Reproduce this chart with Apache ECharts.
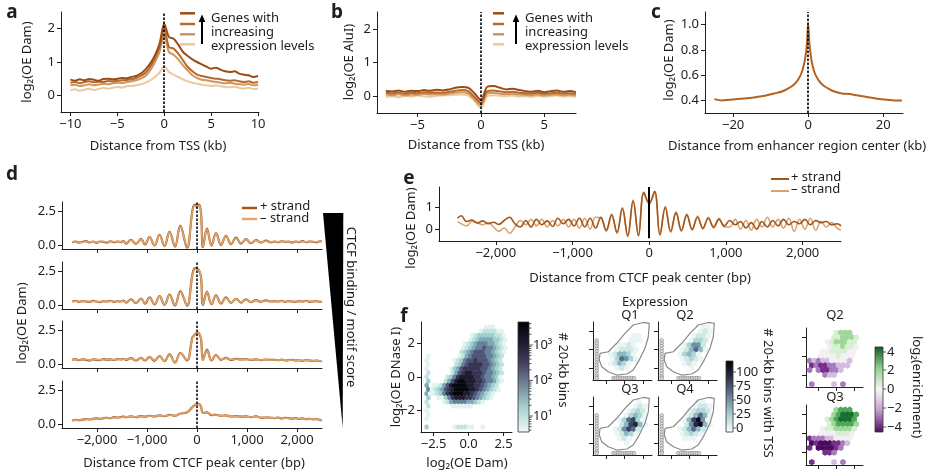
<!DOCTYPE html>
<html><head><meta charset="utf-8">
<script src="https://cdn.jsdelivr.net/npm/echarts@6/dist/echarts.min.js"></script>
<style>html,body{margin:0;padding:0;background:#fff}#c{width:937px;height:474px}</style>
</head><body><div id="c"></div>
<script>
const FONT='"Noto Sans","DejaVu Sans",sans-serif';
const INK='#1e1e1e';
function seq(s,st,n){const a=[];for(let i=0;i<n;i++)a.push(Math.round((s+st*i)*1000)/1000);return a;}
function zip(xs,ys){return xs.map((x,i)=>[x,ys[i]]);}

// ---------- panel a ----------
const aX=seq(-10,0.5,41);
const aTicks=[-10,-5,0,5,10];
const aQ4=[0.47,0.44,0.48,0.45,0.49,0.47,0.44,0.49,0.5,0.48,0.5,0.52,0.51,0.55,0.58,0.65,0.78,0.95,1.2,1.55,2.15,1.75,1.7,1.52,1.3,1.18,1.08,1.0,0.93,0.86,0.8,0.83,0.77,0.72,0.7,0.72,0.65,0.62,0.6,0.55,0.58];
const aQ3=[0.38,0.4,0.36,0.4,0.42,0.39,0.41,0.4,0.43,0.42,0.44,0.45,0.46,0.48,0.52,0.58,0.68,0.85,1.1,1.45,2.0,1.45,1.4,1.25,1.05,0.85,0.72,0.62,0.58,0.55,0.52,0.5,0.48,0.45,0.44,0.45,0.42,0.4,0.42,0.38,0.4];
const aQ2=[0.3,0.32,0.28,0.3,0.33,0.3,0.32,0.35,0.33,0.36,0.38,0.37,0.4,0.42,0.45,0.5,0.58,0.75,0.98,1.3,1.8,1.3,1.22,1.08,0.9,0.75,0.6,0.52,0.47,0.45,0.42,0.4,0.38,0.36,0.38,0.35,0.33,0.32,0.34,0.3,0.32];
const aQ1=[0.15,0.18,0.14,0.17,0.2,0.16,0.19,0.22,0.2,0.23,0.25,0.23,0.27,0.28,0.3,0.33,0.38,0.45,0.55,0.68,0.88,0.7,0.62,0.55,0.48,0.42,0.38,0.35,0.32,0.3,0.28,0.3,0.27,0.25,0.24,0.26,0.22,0.2,0.23,0.19,0.2];

// ---------- panel b ----------
const bX=seq(-7.5,0.5,31);
const bTicks=[-5,0,5];
const bQ4=[0.15,0.14,0.17,0.13,0.16,0.15,0.18,0.16,0.19,0.17,0.2,0.25,0.27,0.25,0.08,-0.12,0.28,0.3,0.25,0.2,0.22,0.18,0.15,0.13,0.16,0.12,0.15,0.17,0.13,0.15,0.12];
const bQ3=[0.1,0.08,0.11,0.07,0.1,0.09,0.12,0.1,0.11,0.1,0.13,0.16,0.18,0.15,-0.03,-0.2,0.15,0.17,0.14,0.12,0.13,0.1,0.09,0.08,0.1,0.07,0.09,0.1,0.08,0.09,0.07];
const bQ2=[0.05,0.03,0.06,0.02,0.05,0.04,0.07,0.05,0.06,0.05,0.08,0.1,0.12,0.08,-0.1,-0.27,0.08,0.1,0.07,0.06,0.07,0.05,0.04,0.03,0.05,0.02,0.04,0.05,0.03,0.04,0.02];
const bQ1=[-0.02,0.0,-0.03,0.01,-0.01,0.02,0.0,-0.02,0.01,0.02,0.03,0.04,0.05,0.02,-0.15,-0.35,0.0,0.03,0.01,0.0,0.02,-0.01,0.0,-0.02,0.01,-0.01,0.0,0.02,-0.01,0.0,-0.02];

// ---------- panel c ----------
const cX=[-25,-23,-21,-19,-17,-15,-13,-11,-9,-7,-5,-4,-3,-2,-1.5,-1,-0.6,-0.3,0,0.3,0.6,1,1.5,2,3,4,5,7,9,11,13,15,17,19,21,23,25];
const cY=[0.41,0.4,0.405,0.41,0.415,0.42,0.43,0.44,0.455,0.47,0.5,0.52,0.55,0.6,0.64,0.7,0.77,0.86,1.01,0.87,0.78,0.7,0.64,0.6,0.55,0.52,0.5,0.47,0.455,0.45,0.44,0.43,0.42,0.41,0.405,0.4,0.4];
const cTicks=[-20,0,20];

// ---------- panel d ----------
const dX=[-2500,-2430,-2360,-2290,-2220,-2150,-2080,-2010,-1940,-1870,-1800,-1730,-1660,-1590,-1520,-1470,
 -1420,-1320,-1220,-1120,-1040,-950,-850,-750,-650,-550,-440,-335,-200,
 -90,-40,0,40,80,
 120,200,290,380,480,580,680,780,880,980,1080,1180,1280,1380,1480,
 1550,1620,1690,1760,1830,1900,1970,2040,2110,2180,2250,2320,2390,2460,2500];
const dTicks=[-2000,-1000,0,1000,2000];
const d1p=[0.25,0.3,0.22,0.28,0.33,0.24,0.3,0.2,0.3,0.27,0.22,0.32,0.25,0.3,0.26,0.33,
 0.15,0.42,0.12,0.5,0.08,0.62,0.02,0.78,-0.02,1.0,-0.08,1.45,-0.15,
 2.6,3.0,2.85,3.0,2.4,
 -0.12,1.25,0.0,0.92,0.05,0.72,0.1,0.58,0.15,0.48,0.18,0.4,0.22,0.36,0.24,
 0.3,0.25,0.32,0.27,0.3,0.22,0.3,0.26,0.33,0.25,0.3,0.28,0.24,0.32,0.3];
const d1m=[0.27,0.28,0.25,0.25,0.3,0.27,0.28,0.23,0.28,0.3,0.25,0.3,0.28,0.27,0.29,0.3,
 0.18,0.4,0.14,0.48,0.1,0.6,0.04,0.75,0.0,0.98,-0.05,1.4,-0.1,
 2.55,2.95,2.9,2.95,2.35,
 -0.1,1.2,0.02,0.9,0.08,0.7,0.12,0.55,0.17,0.46,0.2,0.38,0.23,0.34,0.25,
 0.28,0.27,0.3,0.29,0.28,0.25,0.28,0.28,0.3,0.27,0.28,0.3,0.26,0.3,0.32];
const d2p=[0.3,0.35,0.28,0.33,0.3,0.27,0.34,0.3,0.26,0.32,0.3,0.35,0.28,0.32,0.3,0.36,
 0.22,0.45,0.18,0.52,0.15,0.6,0.1,0.7,0.05,0.8,0.0,1.05,0.0,
 2.3,2.75,2.7,2.6,2.1,
 0.05,1.0,0.1,0.75,0.15,0.6,0.2,0.5,0.22,0.45,0.25,0.4,0.28,0.38,0.3,
 0.33,0.3,0.35,0.28,0.32,0.3,0.27,0.33,0.3,0.35,0.28,0.3,0.32,0.27,0.3];
const d2m=[0.32,0.33,0.3,0.31,0.33,0.29,0.32,0.31,0.28,0.3,0.32,0.33,0.3,0.3,0.32,0.34,
 0.24,0.43,0.2,0.5,0.17,0.58,0.12,0.68,0.07,0.78,0.03,1.0,0.03,
 2.25,2.7,2.72,2.62,2.15,
 0.08,0.98,0.12,0.72,0.17,0.58,0.22,0.48,0.24,0.43,0.27,0.39,0.29,0.36,0.31,
 0.31,0.32,0.33,0.3,0.3,0.32,0.29,0.31,0.32,0.33,0.3,0.29,0.3,0.29,0.28];
const d3p=[0.35,0.4,0.32,0.38,0.35,0.3,0.38,0.35,0.33,0.4,0.36,0.38,0.34,0.4,0.38,0.42,
 0.35,0.48,0.3,0.5,0.3,0.55,0.28,0.62,0.25,0.75,0.15,0.85,0.3,
 2.0,2.2,2.35,2.3,1.9,
 0.35,1.1,0.3,0.7,0.35,0.5,0.35,0.42,0.38,0.4,0.35,0.38,0.33,0.36,0.34,
 0.35,0.32,0.36,0.3,0.33,0.35,0.3,0.32,0.28,0.33,0.3,0.27,0.3,0.26,0.28];
const d3m=[0.37,0.38,0.34,0.36,0.37,0.33,0.36,0.37,0.35,0.38,0.37,0.37,0.36,0.38,0.39,0.4,
 0.37,0.46,0.32,0.48,0.32,0.53,0.3,0.6,0.27,0.72,0.18,0.82,0.32,
 1.95,2.18,2.33,2.32,1.95,
 0.38,1.05,0.32,0.68,0.37,0.48,0.37,0.41,0.37,0.39,0.36,0.37,0.34,0.35,0.33,
 0.34,0.33,0.35,0.32,0.32,0.34,0.31,0.31,0.3,0.32,0.31,0.28,0.29,0.27,0.27];
const d4p=[0.3,0.35,0.32,0.36,0.4,0.38,0.42,0.45,0.42,0.48,0.5,0.47,0.55,0.52,0.55,0.58,
 0.55,0.6,0.55,0.62,0.58,0.65,0.6,0.68,0.62,0.72,0.65,0.8,0.9,
 1.3,1.45,1.5,1.5,1.3,
 0.85,0.9,0.7,0.72,0.65,0.68,0.6,0.62,0.58,0.6,0.55,0.6,0.5,0.52,0.5,
 0.48,0.52,0.45,0.5,0.47,0.44,0.48,0.42,0.45,0.4,0.43,0.38,0.4,0.35,0.33];
const d4m=[0.32,0.33,0.34,0.35,0.38,0.4,0.41,0.43,0.44,0.47,0.48,0.5,0.52,0.53,0.54,0.56,
 0.57,0.59,0.57,0.6,0.6,0.63,0.62,0.66,0.64,0.7,0.67,0.78,0.92,
 1.32,1.48,1.52,1.48,1.28,
 0.83,0.88,0.72,0.7,0.66,0.66,0.62,0.6,0.59,0.58,0.56,0.58,0.52,0.5,0.49,
 0.49,0.5,0.47,0.48,0.46,0.45,0.46,0.43,0.44,0.41,0.42,0.39,0.39,0.36,0.34];

// ---------- panel e ----------
const eX=[-2500].concat(seq(-2450,70,71),[2500]);
const eTicks=[-2000,-1000,0,1000,2000];
const ePlus=[0.5,0.62,0.35,0.42,0.28,0.38,0.25,0.32,0.22,0.4,0.55,0.25,0.1,0.4,0.1,0.45,0.2,0.38,0.12,0.5,0.25,0.45,0.15,0.5,0.1,0.5,0.05,0.55,-0.05,0.65,-0.15,0.95,-0.3,1.3,-0.3,1.7,1.2,1.75,-0.25,1.0,-0.1,0.75,-0.05,0.65,0.0,0.55,0.05,0.5,0.1,0.45,0.15,0.4,0.2,0.35,0.05,0.3,0.0,0.35,0.1,0.4,0.15,0.45,0.2,0.35,0.25,0.45,0.2,0.4,0.3,0.35,0.2,0.25,0.15];
const eMinus=[0.35,0.25,0.15,0.35,0.3,0.2,0.3,0.1,-0.1,0.05,-0.2,0.1,0.4,0.2,0.45,0.15,0.45,0.1,0.4,0.15,0.45,0.1,0.45,0.05,0.5,0.0,0.55,0.5,-0.1,0.7,-0.2,1.0,-0.35,1.35,-0.3,1.65,1.15,1.7,-0.3,1.05,-0.15,0.8,-0.1,0.7,-0.05,0.6,0.0,0.55,0.05,0.5,0.1,0.1,0.45,0.0,0.4,-0.05,0.45,0.1,0.55,0.1,0.45,0.05,0.5,-0.1,0.45,0.0,0.5,-0.05,0.35,0.1,0.3,0.05,-0.05];

// ---------- panel f : hexbin density levels (rows top->bottom, y=3..-3 step .25; cols x=-3..2.5 step .25) ----------
const fxTicks=[-2.5,0,2.5], fyTicks=[-2,0,2];
const hexRows=[
"00000000000000000111000","00000000000000012222110","00000000000001233333221","00000000000012344443321",
"00000000000123455544321","00000000001234556554321","00000000002345666554321","10000000012456666554320",
"10000000123566766654320","10000000235677776654320","10000001346777776654320","20000002467887776554320",
"20000023578888776554310","30000246899888776554210","40112468999988776543200","51234678999988765432100",
"41123578999887654321000","30011357888776543210000","20000124555544321000000","20000001111110000000000",
"10000000000000000000000","10000000000000000000000","10000000000000000000000","00000000000000000000000",
"30000000122211001000000"];
// Q panels: density with TSS (rows y=2.5..-2.5 step .5; cols x=-3..2.5 step .5)
const q1Rows=["000000000000","000000000000","000000001100","000000011100","000001121000","000012221000","000124431000","000136531000","000124310000","000012100000","000000000000"];
const q2Rows=["000000000110","000000001210","000000012210","000000133200","000001355200","000012464100","000013431000","000012321000","000001210000","000000100000","000000000000"];
const q3Rows=["000000000100","000000001210","000000012320","000000134310","000001367310","000002478410","000012576200","000012431000","000001210000","000000100000","000000000000"];
const q4Rows=["000000001100","000000012210","000000123320","000001246410","000001479510","000002589410","000012464200","000012321000","000001110000","000000000000","000000000000"];
const qOutX=[-2.64,-1.74,-0.83,0.07,0.97,2.06,2.71,2.6,2.24,1.52,0.97,0.26,-0.83,-1.74,-2.46,-2.72,-2.64];
const qOutY=[-0.4,-0.23,0.69,1.77,2.67,2.95,2.86,1.4,0.14,-1.31,-2.21,-2.65,-2.76,-2.4,-1.85,-1.13,-0.4];
const qDotColY=[1.0,0.7,0.4,0.1,-0.2,-0.5,-0.8,-1.1,-1.4,-1.7,-2.0,-2.3,-2.6,-2.9];
const qDotRowX=[-3.0,-1.2,-0.95,-0.7,-0.45,-0.2,0.05,0.3,0.55,0.8,1.05];
// enrichment (digit-5 = log2 enrichment), rows y=2.5..-3 step .5
const e2Rows=["000000677700","000006677760","000056777660","000056676650","000556666550","005555655500","343445555400","232233444000","303223340000","000344000000","000000000000","300004030000"];
const e3Rows=["000000788800","000007899980","000067899980","000067888870","000566777760","005555666500","233344555500","121112234000","201111230000","000223000000","000000000000","200004030000"];

function gridCells(rows,x0,dx,y0,dy,off,shift){
  const out=[];
  rows.forEach((row,r)=>{for(let c=0;c<row.length;c++){const ch=row[c];if(ch!=='0'){out.push([x0+dx*c+(r%2?off:0),y0-dy*r,(+ch)-(shift||0)]);}}});
  return out;
}
const fmt=d=>v=>(v<0?'\u2212':'')+Math.abs(v).toFixed(d);
const fmtK=v=>(v<0?'\u2212':'')+String(Math.abs(v)).replace(/\B(?=(\d{3})+(?!\d))/g,',');

const grids=[
 {left:61,top:12,width:198,height:100},
 {left:377,top:12,width:199,height:101},
 {left:705,top:12,width:198,height:101},
 {left:62,top:202,width:260,height:47},
 {left:62,top:262,width:260,height:47},
 {left:62,top:321,width:260,height:47},
 {left:62,top:381,width:260,height:47},
 {left:439,top:187,width:402,height:54},
 {left:421,top:322,width:91,height:110},
 {left:593,top:322,width:59,height:58},
 {left:658,top:322,width:59,height:58},
 {left:593,top:397,width:59,height:58},
 {left:658,top:397,width:59,height:58},
 {left:806,top:328,width:57,height:59},
 {left:806,top:405,width:57,height:60}
];
function ax(gi,min,max,ticks,f,show,pos){
  return {type:'value',gridIndex:gi,min,max,position:pos,splitLine:{show:false},
    axisLine:{show:true,onZero:false,lineStyle:{color:INK,width:1}},
    axisTick:{show:true,length:4,lineStyle:{color:INK,width:1},customValues:ticks},
    axisLabel:{show:!!show,customValues:ticks,formatter:f||(v=>''),color:INK,fontSize:13,fontFamily:FONT,margin:6}};
}
const xAxes=[
 ax(0,-11,10.1,aTicks,fmt(0),true,'bottom'),
 ax(1,-8.2,7.5,bTicks,fmt(0),true,'bottom'),
 ax(2,-27.5,25.3,cTicks,fmt(0),true,'bottom'),
 ax(3,-2700,2500,dTicks,fmtK,false,'bottom'),
 ax(4,-2700,2500,dTicks,fmtK,false,'bottom'),
 ax(5,-2700,2500,dTicks,fmtK,false,'bottom'),
 ax(6,-2700,2500,dTicks,fmtK,true,'bottom'),
 ax(7,-2740,2500,eTicks,fmtK,true,'bottom'),
 ax(8,-3.4,3.1,fxTicks,fmt(1),true,'bottom')
];
const yAxes=[
 ax(0,-0.5,2.5,[0,1,2],fmt(0),true,'left'),
 ax(1,-0.5,2.5,[0,1,2],fmt(0),true,'left'),
 ax(2,0.3,1.1,[0.4,0.6,0.8,1.0],fmt(1),true,'left'),
 ax(3,-0.25,3.2,[0,2.5],fmt(1),true,'left'),
 ax(4,-0.25,3.2,[0,2.5],fmt(1),true,'left'),
 ax(5,-0.25,3.2,[0,2.5],fmt(1),true,'left'),
 ax(6,-0.25,3.2,[0,2.5],fmt(1),true,'left'),
 ax(7,-0.55,1.95,[0,1],fmt(0),true,'left'),
 ax(8,-3.3,3.3,fyTicks,fmt(0),true,'left')
];
for(let gi=9;gi<15;gi++){xAxes.push(ax(gi,-3.4,3.0,[-2,0,2],null,false,'bottom'));yAxes.push(ax(gi,-3.3,3.0,[-2,0,2],null,false,'left'));}

const S=[];
function line(gi,xs,ys,color,w,extra){S.push(Object.assign({type:'line',xAxisIndex:gi,yAxisIndex:gi,data:zip(xs,ys),symbol:'none',showSymbol:false,smooth:0.3,lineStyle:{color,width:w},silent:true,z:3},extra||{}));return S.length-1;}
const vline=(dash,w)=>({silent:true,symbol:['none','none'],label:{show:false},lineStyle:{color:'#000',width:w,type:dash?[2.5,1.5]:'solid'},data:[{xAxis:0}]});

const aC=['#e9c9a0','#cf975f','#b56a2c','#9a4c16'];
line(0,aX,aQ1,aC[0],2);line(0,aX,aQ2,aC[1],2);line(0,aX,aQ3,aC[2],2);line(0,aX,aQ4,aC[3],2,{markLine:vline(true,1.6)});
line(1,bX,bQ1,aC[0],2);line(1,bX,bQ2,aC[1],2);line(1,bX,bQ3,aC[2],2);line(1,bX,bQ4,aC[3],2,{markLine:vline(true,1.6)});
line(2,cX,cY,'#b5621f',2,{markLine:vline(true,1.6)});
const dP='#a3561d', dM='#dca66e';
[[d1p,d1m],[d2p,d2m],[d3p,d3m],[d4p,d4m]].forEach((pr,i)=>{line(3+i,dX,pr[0],dP,2.2,{smooth:0.4});line(3+i,dX,pr[1],dM,1.6,{smooth:0.4,markLine:vline(true,1.5)});});
line(7,eX,eMinus,'#d9a46e',1.6,{smooth:0.4});
line(7,eX,ePlus,'#a3561d',1.6,{smooth:0.4,markLine:{silent:true,symbol:['none','none'],label:{show:false},lineStyle:{color:'#000',width:2,type:'solid'},data:[[{coord:[0,-0.42]},{coord:[0,1.95]}]]}});

const HEX='path://M0,-1L0.866,-0.5L0.866,0.5L0,1L-0.866,0.5L-0.866,-0.5Z';
function scat(gi,data,size,extra){S.push(Object.assign({type:'scatter',xAxisIndex:gi,yAxisIndex:gi,data,symbol:HEX,symbolSize:size,silent:true,itemStyle:{opacity:1},z:2},extra||{}));return S.length-1;}
const iHex=scat(8,gridCells(hexRows,-3,0.25,3,0.25,0.125),[4.3,5.6]);
const qIdx=[];
[[q1Rows,9],[q2Rows,10],[q3Rows,11],[q4Rows,12]].forEach(([rows,gi])=>{
  qIdx.push(scat(gi,gridCells(rows,-3,0.5,2.5,0.5,0.25),[5.6,6.4]));
  line(gi,qOutX,qOutY,'#8a8a8a',1.2,{smooth:false,z:4});
  S.push({type:'scatter',xAxisIndex:gi,yAxisIndex:gi,silent:true,symbol:'circle',symbolSize:3.6,z:5,
    itemStyle:{color:'#d6d6d6',borderColor:'#888',borderWidth:0.8},
    data:qDotColY.map(y=>[-3.0,y]).concat(qDotRowX.map(x=>[x,-3.1]))});
});
const iE2=scat(13,gridCells(e2Rows,-3,0.5,2.5,0.5,0.25,5),[5.6,6.4]);
const iE3=scat(14,gridCells(e3Rows,-3,0.5,2.5,0.5,0.25,5),[5.6,6.4]);

const hexColors=['#e2f3f0','#c2e4e0','#9fcfcc','#7fa9b3','#64809a','#4d5478','#353552','#1f1b30','#08070d'];
const qColors=['#eaf5f4','#cfe8e6','#aed6d5','#8db8bf','#7092a6','#566c8a','#3b4567','#232640','#0d0d18'];
const prgn=['#4b0b5e','#7a2e8c','#a57bbd','#d3bce0','#f2f0f2','#d8efd2','#9fd79a','#4fa85a','#17702f'];

const G=[];
function txt(x,y,text,o){o=o||{};G.push({type:'text',x,y,rotation:o.rot||0,silent:true,z:100,style:{text,x:0,y:0,fill:o.color||INK,fontSize:o.size||13,fontFamily:FONT,fontWeight:o.weight||'normal',textAlign:o.align||'center',textVerticalAlign:o.va||'middle'}});}
function seg(x1,y1,x2,y2,c,w){G.push({type:'line',silent:true,z:100,shape:{x1,y1,x2,y2},style:{stroke:c,lineWidth:w}});}
function poly(pts,c){G.push({type:'polygon',silent:true,z:100,shape:{points:pts},style:{fill:c}});}
const R=Math.PI/2;
// panel letters
txt(12,13,'a',{size:19,weight:'bold'});txt(337,13,'b',{size:19,weight:'bold'});txt(656,13,'c',{size:19,weight:'bold'});
txt(12,175,'d',{size:19,weight:'bold'});txt(409,179,'e',{size:19,weight:'bold'});txt(404,317,'f',{size:19,weight:'bold'});
// axis titles
txt(158,146,'Distance from TSS (kb)');txt(476,145,'Distance from TSS (kb)');txt(668,146,'Distance from enhancer region center (kb)',{align:'left'});
txt(194,463,'Distance from CTCF peak center (bp)');txt(640,278,'Distance from CTCF peak center (bp)');txt(467,463,'log\u2082(OE Dam)');
txt(27,62,'log\u2082(OE Dam)',{rot:R});txt(349,62,'log\u2082(OE AluI)',{rot:R});txt(669,60,'log\u2082(OE Dam)',{rot:R});
txt(22,323,'log\u2082(OE Dam)',{rot:R});txt(411,228,'log\u2082(OE Dam)',{rot:R});txt(396,377,'log\u2082(OE DNase I)',{rot:R});
// legends a,b
[[180,195,202,211],[493,504,516,525]].forEach(([x1,x2,xa,xt])=>{
  [13.3,24,34.3,44.3].forEach((y,i)=>seg(x1,y,x2,y,aC[3-i],2.5));
  seg(xa,44,xa,21,'#000',2);poly([[xa-3.3,22],[xa+3.3,22],[xa,14.5]],'#000');
  txt(xt,18,'Genes with',{align:'left'});txt(xt,32,'increasing',{align:'left'});txt(xt,46,'expression levels',{align:'left'});
});
// legend d,e
seg(242,208,257,208,dP,2.5);seg(242,219,257,219,dM,2.5);txt(260,206,'+ strand',{align:'left'});txt(260,218,'\u2013 strand',{align:'left'});
seg(771,179,789,179,dP,2);seg(771,191,789,191,'#d9a46e',2);txt(791,177,'+ strand',{align:'left'});txt(791,189,'\u2013 strand',{align:'left'});
// CTCF wedge
poly([[323,213],[343.3,213],[342.7,428]],'#000');
txt(351,307,'CTCF binding / motif score',{rot:-R});
// colorbar f main
G.push({type:'rect',silent:true,z:100,shape:{x:518,y:322,width:11,height:110},style:{stroke:'#333',lineWidth:0.8,fill:new echarts.graphic.LinearGradient(0,0,0,1,[{offset:0,color:'#000'},{offset:0.2,color:'#1f1c30'},{offset:0.38,color:'#45425f'},{offset:0.58,color:'#77899c'},{offset:0.78,color:'#a9d3cf'},{offset:1,color:'#eef8f6'}])}});
for(let d=0;d<4;d++)for(let k=1;k<10;k++){const y=416-(Math.log10(k*Math.pow(10,d))-1)*35.5;if(y>322&&y<432)seg(529,y,k===1?533:531.5,y,'#333',0.8);}
txt(533,345,'10\u00b3',{align:'left'});txt(533,380,'10\u00b2',{align:'left'});txt(533,416,'10\u00b9',{align:'left'});
txt(563,370,'# 20-kb bins',{rot:-R});
// Q titles
txt(655,302,'Expression');txt(630,315,'Q1');txt(685,315,'Q2');txt(630,389,'Q3');txt(685,389,'Q4');
// Q colorbar
G.push({type:'rect',silent:true,z:100,shape:{x:726,y:361,width:7,height:71},style:{stroke:'#333',lineWidth:0.8,fill:new echarts.graphic.LinearGradient(0,0,0,1,[{offset:0,color:'#000'},{offset:0.2,color:'#262840'},{offset:0.45,color:'#5f6f8a'},{offset:0.72,color:'#a3c8c9'},{offset:1,color:'#ffffff'}])}});
[[372,'100'],[386,'75'],[400,'50'],[414,'25'],[428,'0']].forEach(([y,t])=>{seg(733,y,736,y,'#333',0.8);txt(736,y,t,{align:'left'});});
txt(768,393,'# 20-kb bins with TSS',{rot:-R});
// enrichment
txt(835,315,'Q2');txt(835,397,'Q3');
G.push({type:'rect',silent:true,z:100,shape:{x:875,y:347,width:8,height:85},style:{stroke:'#333',lineWidth:0.8,fill:new echarts.graphic.LinearGradient(0,0,0,1,[{offset:0,color:'#0f5a25'},{offset:0.25,color:'#8fd08a'},{offset:0.5,color:'#f7f7f7'},{offset:0.75,color:'#c39bd0'},{offset:1,color:'#4b0b5e'}])}});
[[352,'4'],[370,'2'],[389,'0'],[408,'\u22122'],[427,'\u22124']].forEach(([y,t])=>{seg(883,y,886,y,'#333',0.8);txt(887,y,t,{align:'left'});});
txt(917,387,'log\u2082(enrichment)',{rot:-R});

const chart=echarts.init(document.getElementById('c'),null,{renderer:'canvas'});
chart.setOption({
  animation:false,backgroundColor:'#fff',
  grid:grids,xAxis:xAxes,yAxis:yAxes,series:S,graphic:G,
  visualMap:[
    {type:'continuous',show:false,seriesIndex:[iHex],dimension:2,min:1,max:9,inRange:{color:hexColors}},
    {type:'continuous',show:false,seriesIndex:qIdx,dimension:2,min:1,max:9,inRange:{color:qColors}},
    {type:'continuous',show:false,seriesIndex:[iE2,iE3],dimension:2,min:-4,max:4,inRange:{color:prgn}}
  ]
});
</script></body></html>
